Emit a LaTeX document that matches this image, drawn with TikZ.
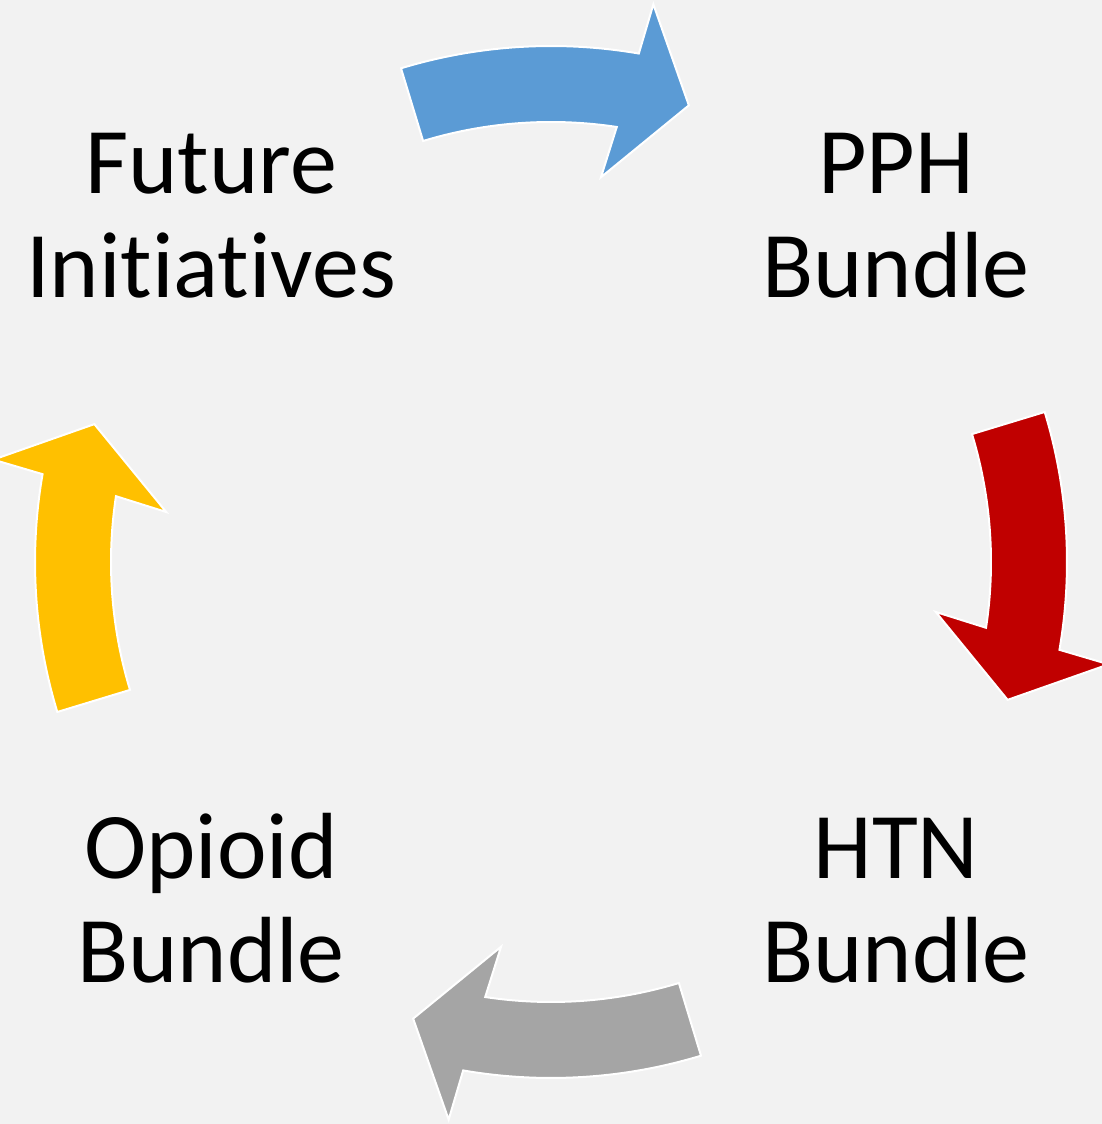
\documentclass[tikz,border=0pt]{standalone}
\usepackage{fontspec}
\setmainfont{Carlito}[Ligatures=NoCommon]
\definecolor{bg}{HTML}{F2F2F2}
\definecolor{cblue}{HTML}{5B9BD5}
\definecolor{cred}{HTML}{C00000}
\definecolor{cgray}{HTML}{A5A5A5}
\definecolor{cyel}{HTML}{FFC000}
\begin{document}
\begin{tikzpicture}[x=1pt,y=1pt,
  arrowshape/.style={draw=white, line width=2pt, line join=miter},
  label/.style={inner sep=0pt, align=center, text=black, font=\fontsize{94}{104}\selectfont, anchor=base}]
\fill[bg] (0,0) rectangle (1102,1124);
\useasboundingbox (0,0) rectangle (1102,1124);
\coordinate (c) at (551,562);
\foreach \rot/\col in {0/cblue,-90/cred,-180/cgray,-270/cyel} {
  \begin{scope}[shift={(c)}, rotate=\rot]
    \path[arrowshape, fill=\col] (106.9:516) arc[start angle=106.9, end angle=80.2, radius=516]
      -- (79.6:567) -- (73.2:477) -- (82.6:388) -- (81.4:440)
      arc[start angle=81.4, end angle=106.9, radius=440] -- cycle;
  \end{scope}
}
\node[label] (fut) at (211,826) {Future\\Initiatives};
\node[label] (pph) at (896,826) {PPH\\Bundle};
\node[label] (opi) at (211,141) {Opioid\\Bundle};
\node[label] (htn) at (896,141) {HTN\\Bundle};
\end{tikzpicture}
\end{document}
